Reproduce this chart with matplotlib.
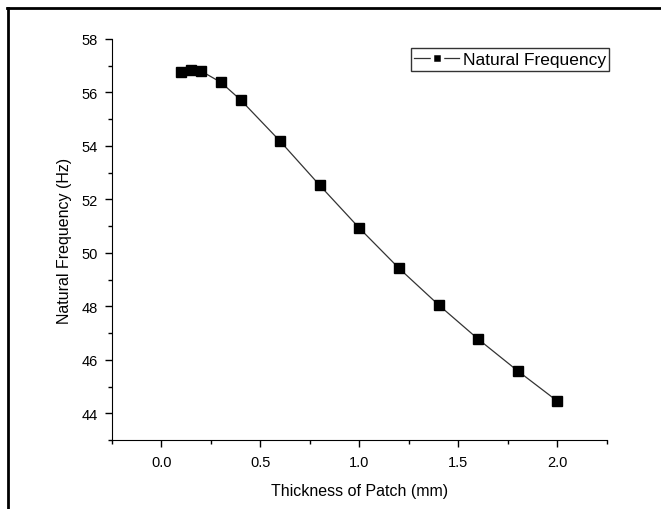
import matplotlib
matplotlib.use("Agg")
import matplotlib.pyplot as plt
from matplotlib.lines import Line2D
from matplotlib.ticker import MultipleLocator

# Tjukkleik på patch (mm) og eigenfrekvens (Hz)
tjukkleik = [0.1, 0.15, 0.2, 0.3, 0.4, 0.6, 0.8, 1.0, 1.2, 1.4, 1.6, 1.8, 2.0]
frekvens = [56.78, 56.85, 56.8, 56.38, 55.72, 54.17, 52.52, 50.92, 49.42, 48.05, 46.77, 45.58, 44.45]

plt.rcParams['font.family'] = ['Liberation Sans', 'DejaVu Sans']

fig = plt.figure(figsize=(6.61, 5.10), dpi=100)
ax = fig.add_axes([0.1694, 0.1353, 0.7489, 0.7863])

ax.plot(tjukkleik, frekvens, color='#333333', linewidth=0.9, marker='s',
        markersize=6.5, markerfacecolor='black', markeredgecolor='black',
        label='Natural Frequency')

ax.set_xlim(-0.25, 2.25)
ax.set_ylim(43, 58)
ax.xaxis.set_major_locator(MultipleLocator(0.5))
ax.xaxis.set_minor_locator(MultipleLocator(0.25))
ax.yaxis.set_major_locator(MultipleLocator(2))
ax.yaxis.set_minor_locator(MultipleLocator(1))
ax.xaxis.set_major_formatter(matplotlib.ticker.FormatStrFormatter('%.1f'))

ax.spines['top'].set_visible(False)
ax.spines['right'].set_visible(False)
ax.tick_params(which='major', direction='out', length=5, width=1, labelsize=10.5)
ax.tick_params(axis='x', which='major', pad=6)
ax.tick_params(axis='y', which='major', pad=5)
ax.tick_params(which='minor', direction='out', length=3, width=1)

ax.set_xlabel("Thickness of Patch (mm)", fontsize=11.5, labelpad=10)
ax.set_ylabel("Natural Frequency (Hz)", fontsize=11.5, labelpad=7)

leg = ax.legend(loc='upper right', bbox_to_anchor=(1.012, 0.985), fontsize=12.5,
                frameon=True, fancybox=False, handlelength=2.6,
                handletextpad=0.2, borderpad=0.2, borderaxespad=0.2)
leg.get_frame().set_edgecolor('black')
leg.get_frame().set_linewidth(1.0)
for h in leg.legend_handles:
    h.set_markeredgecolor('white')
    h.set_markeredgewidth(2.5)
    h.set_markersize(7.5)

# Ramme rundt figuren (venstre og topp)
fig.add_artist(Line2D([0.012, 0.012], [0.0, 0.983], transform=fig.transFigure,
                      color='black', linewidth=2))
fig.add_artist(Line2D([0.011, 1.0], [0.982, 0.982], transform=fig.transFigure,
                      color='black', linewidth=2))

fig.savefig("out.png", dpi=100)
